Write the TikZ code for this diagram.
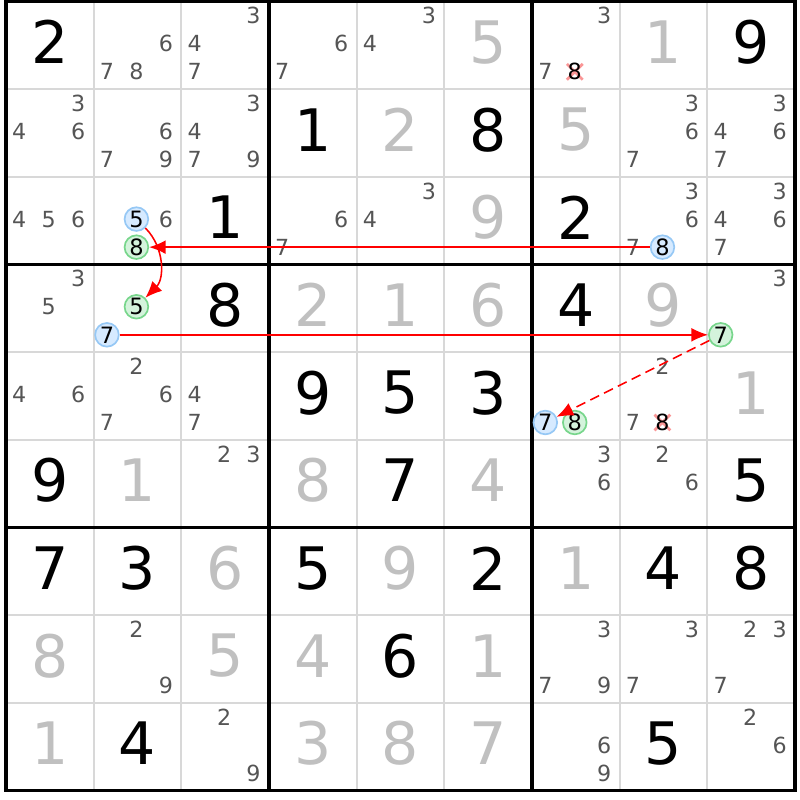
\documentclass[tikz,border=0pt]{standalone}
\usepackage{fontspec}
\setmainfont{DejaVu Sans}
\usetikzlibrary{arrows.meta}

\definecolor{candgray}{RGB}{85,85,85}
\definecolor{solvedgray}{RGB}{192,192,192}
\definecolor{thingray}{RGB}{216,216,216}
\definecolor{bluefill}{RGB}{214,234,255}
\definecolor{blueline}{RGB}{150,200,245}
\definecolor{greenfill}{RGB}{212,243,220}
\definecolor{greenline}{RGB}{120,214,140}
\definecolor{xpink}{RGB}{250,150,150}

\tikzset{
	given/.style={font=\fontsize{19}{19}\selectfont, text=black, inner sep=0pt},
	solved/.style={font=\fontsize{19}{19}\selectfont, text=solvedgray, inner sep=0pt},
	cand/.style={font=\fontsize{7.2}{7.2}\selectfont, text=candgray, inner sep=0pt},
	oncand/.style={circle, font=\fontsize{7.3}{7.3}\selectfont, text=black, inner sep=0pt, minimum size=0.27cm, line width=0.55pt},
	bluecand/.style={oncand, draw=blueline, fill=bluefill},
	greencand/.style={oncand, draw=greenline, fill=greenfill},
	xmark/.style={xpink, line width=0.9pt},
	link/.style={red, line width=0.5pt, -{Latex[length=5.4pt,width=4.5pt]}},
}

\begin{document}
\begin{tikzpicture}
			\useasboundingbox (-0.068,0.017) rectangle (9.057,-9.108);

			% grid
			\foreach \i in {1,2,4,5,7,8} {
				\draw[thingray, line width=0.6pt] (\i,0) -- (\i,-9);
				\draw[thingray, line width=0.6pt] (0,-\i) -- (9,-\i);
			}
			\foreach \i in {0,3,6,9} {
				\draw[black, line width=1pt, line cap=rect] (\i,0) -- (\i,-9);
				\draw[black, line width=1pt, line cap=rect] (0,-\i) -- (9,-\i);
			}

			% given and solved digits
			\foreach \c/\r/\d in {1/1/2, 9/1/9, 4/2/1, 6/2/8, 3/3/1, 7/3/2, 3/4/8, 7/4/4,
				4/5/9, 5/5/5, 6/5/3, 1/6/9, 5/6/7, 9/6/5, 1/7/7, 2/7/3, 4/7/5, 6/7/2,
				8/7/4, 9/7/8, 5/8/6, 2/9/4, 8/9/5}
				\node[given] at (\c-0.5,-\r+0.535) {\d};
			\foreach \c/\r/\d in {6/1/5, 8/1/1, 5/2/2, 7/2/5, 6/3/9, 4/4/2, 5/4/1, 6/4/6,
				8/4/9, 9/5/1, 2/6/1, 4/6/8, 6/6/4, 3/7/6, 5/7/9, 7/7/1, 1/8/8, 3/8/5,
				4/8/4, 6/8/1, 1/9/1, 4/9/3, 5/9/8, 6/9/7}
				\node[solved] at (\c-0.5,-\r+0.535) {\d};

			% candidates
			\foreach \c/\r/\ds in {2/1/{6,7,8}, 3/1/{3,4,7}, 4/1/{6,7}, 5/1/{3,4}, 7/1/{3,7},
				1/2/{3,4,6}, 2/2/{6,7,9}, 3/2/{3,4,7,9}, 8/2/{3,6,7}, 9/2/{3,4,6,7},
				1/3/{4,5,6}, 2/3/{6}, 4/3/{6,7}, 5/3/{3,4}, 8/3/{3,6,7}, 9/3/{3,4,6,7},
				1/4/{3,5}, 9/4/{3}, 1/5/{4,6}, 2/5/{2,6,7}, 3/5/{4,7}, 8/5/{2,7},
				3/6/{2,3}, 7/6/{3,6}, 8/6/{2,6}, 2/8/{2,9}, 7/8/{3,7,9}, 8/8/{3,7},
				9/8/{2,3,7}, 3/9/{2,9}, 7/9/{6,9}, 9/9/{2,6}}
				\foreach \d in \ds {
					\pgfmathsetmacro\cx{\c-1+0.488+(mod(\d-1,3)-1)*0.336}
					\pgfmathsetmacro\cy{-\r+1-0.482-(floor((\d-1)/3)-1)*0.32}
					\node[cand] at (\cx,\cy) {\d};
				}

			% eliminated
			\draw[xmark] (6.398,-0.712) -- (6.578,-0.892) (6.398,-0.892) -- (6.578,-0.712);
			\draw[xmark] (7.398,-4.712) -- (7.578,-4.892) (7.398,-4.892) -- (7.578,-4.712);
			\draw node[cand, text=black] (r1c7n8) at (6.488,-0.802) {8};
			\draw node[cand, text=black] (r5c8n8) at (7.488,-4.802) {8};

			% chain
			\draw node[bluecand] (r3c2n5) at (1.488,-2.482) {5};
			\draw node[greencand] (r3c2n8) at (1.488,-2.802) {8};
			\draw node[bluecand] (r3c8n8) at (7.488,-2.802) {8};
			\draw node[greencand] (r4c2n5) at (1.488,-3.482) {5};
			\draw node[bluecand] (r4c2n7) at (1.152,-3.802) {7};
			\draw node[greencand] (r4c9n7) at (8.152,-3.802) {7};
			\draw node[bluecand] (r5c7n7) at (6.152,-4.802) {7};
			\draw node[greencand] (r5c7n8) at (6.488,-4.802) {8};

			\draw[link] (r3c8n8) -- (r3c2n8);
			\draw[link] (r3c2n5) to[bend left=45] (r4c2n5);
			\draw[link] (r4c2n7) -- (r4c9n7);
			\draw[link, dash pattern=on 3.2pt off 1.8pt] (r4c9n7) -- (r5c7n7);
		\end{tikzpicture}
\end{document}
